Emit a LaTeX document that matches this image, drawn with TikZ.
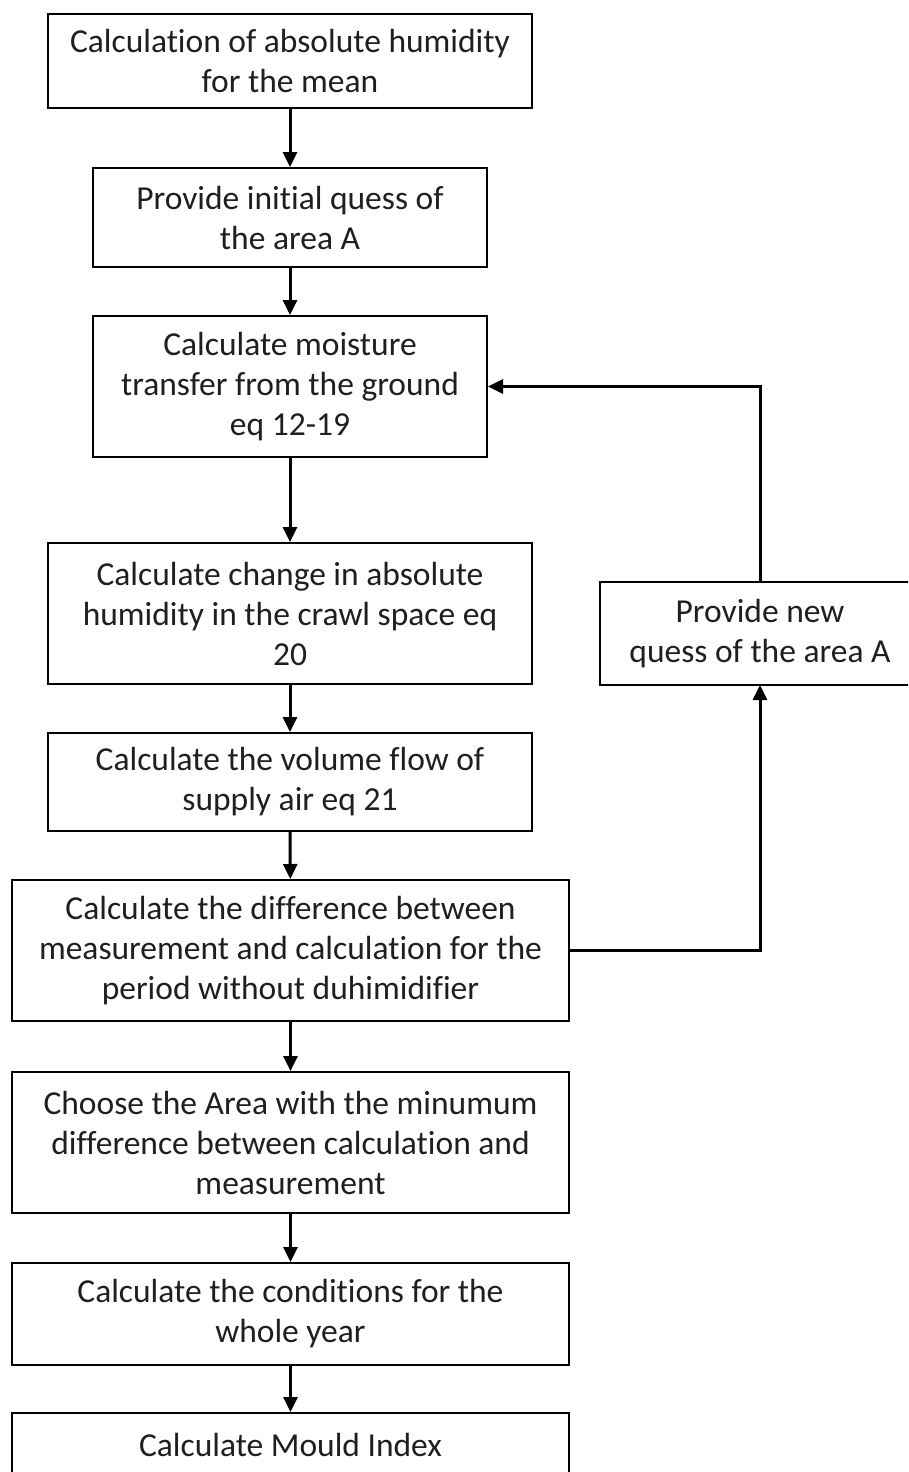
\documentclass[tikz,border=0pt]{standalone}
\usepackage{fontspec}
\setmainfont{Carlito}[Ligatures={NoCommon}]
\usetikzlibrary{arrows.meta}
\begin{document}
\begin{tikzpicture}[x=1pt,y=-1pt,
  box/.style={draw=black, line width=2pt, fill=white, inner sep=0pt, align=center,
    font=\fontsize{33.5}{40}\selectfont, text=black!88},
  conn/.style={line width=3pt, -{Triangle[length=15pt,width=14pt]}}]
\useasboundingbox (0,0) rectangle (908,1472);
\clip (0,0) rectangle (908,1472);
\fill[white] (0,0) rectangle (908,1472);
\node[box, minimum width=484pt, minimum height=94pt] (b1) at (290,61) {Calculation of absolute humidity\\for the mean};
\node[box, minimum width=394pt, minimum height=99pt] (b2) at (290,217.5) {Provide initial quess of\\the area A};
\node[box, minimum width=394pt, minimum height=141pt] (b3) at (290,386.5) {Calculate moisture\\transfer from the ground\\eq 12-19};
\node[box, minimum width=484pt, minimum height=141pt] (b4) at (290,613.5) {Calculate change in absolute\\humidity in the crawl space eq\\20};
\node[box, minimum width=484pt, minimum height=98pt] (b5) at (290,782) {Calculate the volume flow of\\supply air eq 21};
\node[box, minimum width=557pt, minimum height=141pt] (b6) at (290.5,950.5) {Calculate the difference between\\measurement and calculation for the\\period without duhimidifier};
\node[box, minimum width=557pt, minimum height=141pt] (b7) at (290.5,1142.5) {Choose the Area with the minumum\\difference between calculation and\\measurement};
\node[box, minimum width=557pt, minimum height=102pt] (b8) at (290.5,1314) {Calculate the conditions for the\\whole year};
\node[box, minimum width=557pt, minimum height=64pt] (b9) at (290.5,1445) {Calculate Mould Index};
\node[box, draw=none, fill=none, minimum width=318pt, minimum height=101pt] (s) at (760,633.5) {Provide new\\quess of the area A};
\draw[line width=2pt] (s.south west) rectangle ([xshift=30pt]s.north east);
\draw[conn] (b1) -- (b2);
\draw[conn] (b2) -- (b3);
\draw[conn] (b3) -- (b4);
\draw[conn] (b4) -- (b5);
\draw[conn] (b5) -- (b6);
\draw[conn] (b6) -- (b7);
\draw[conn] (b7) -- (b8);
\draw[conn] (b8) -- (b9);
\draw[conn] (b6.east) -| (s.south);
\draw[conn] (s.north) |- (b3.east);
\end{tikzpicture}
\end{document}
